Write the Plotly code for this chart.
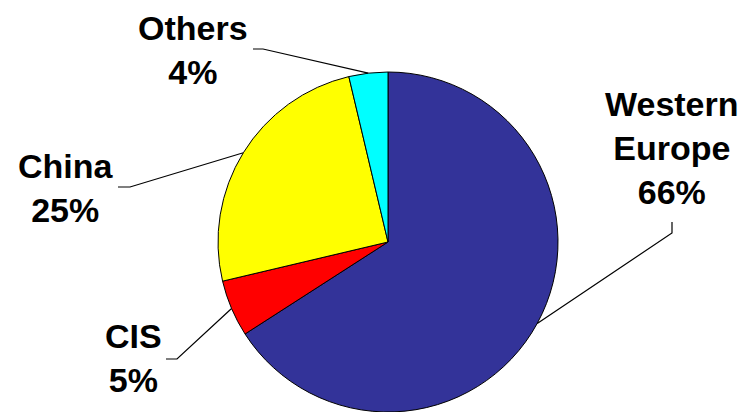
import math
import plotly.graph_objects as go

# ---- data ----
regions = ["Western Europe", "CIS", "China", "Others"]
shares = [65.9, 5.4, 25.0, 3.7]
colors = ["#333399", "#FF0000", "#FFFF00", "#00FFFF"]

# ---- layout (pixels) ----
W, H = 742, 412
CX, R = 388, 170          # pie centre x and radius
DOM_H = 2 * R              # pie domain height from the bottom
# label text centres and leader-line anchor points (text end -> elbow)
label_pos = {
    "Western Europe": dict(x=672, y=148, pts=[(672, 222), (672, 233)]),
    "CIS": dict(x=133, y=358, pts=[(166, 359), (177, 359)]),
    "China": dict(x=66, y=188, pts=[(118, 187), (130, 187)]),
    "Others": dict(x=193, y=50, pts=[(253, 49), (263, 49)]),
}

def px2paper(x, y):
    return x / W, 1 - y / H

dom_x = [(CX - R) / W, (CX + R) / W]
dom_y = [0, DOM_H / H]
CY = H - DOM_H / 2  # pie centre y in px from top

fig = go.Figure(go.Pie(
    labels=regions, values=shares, sort=False, direction="clockwise", rotation=0,
    marker=dict(colors=colors, line=dict(color="black", width=1)),
    textinfo="none", hoverinfo="label+percent", showlegend=False,
    domain=dict(x=dom_x, y=dom_y),
))

total = sum(shares)
cum = 0.0
shapes, annotations = [], []
for name, v in zip(regions, shares):
    mid = (cum + v / 2) / total * 2 * math.pi
    cum += v
    ex = CX + R * math.sin(mid)
    ey = CY - R * math.cos(mid)
    lp = label_pos[name]
    pts = lp["pts"] + [(ex, ey)]
    path = "M " + " L ".join(f"{px2paper(x, y)[0]:.5f},{px2paper(x, y)[1]:.5f}" for x, y in pts)
    shapes.append(dict(type="path", xref="paper", yref="paper", path=path,
                       line=dict(color="black", width=1.2)))
    ax, ay = px2paper(lp["x"], lp["y"])
    txt = name.replace(" ", "<br>") + f"<br>{v / total:.0%}"
    annotations.append(dict(x=ax, y=ay, xref="paper", yref="paper", text=f"<b>{txt}</b>",
                            showarrow=False, xanchor="center", yanchor="middle",
                            font=dict(family="Liberation Sans, Arial", size=34, color="black")))

fig.update_layout(
    width=W, height=H, margin=dict(l=0, r=0, t=0, b=0),
    paper_bgcolor="white", plot_bgcolor="white",
    shapes=shapes, annotations=annotations,
)
fig.write_html("out.html", config={"displayModeBar": False},
               post_script="document.body.style.margin='0';document.body.style.overflow='hidden';")
